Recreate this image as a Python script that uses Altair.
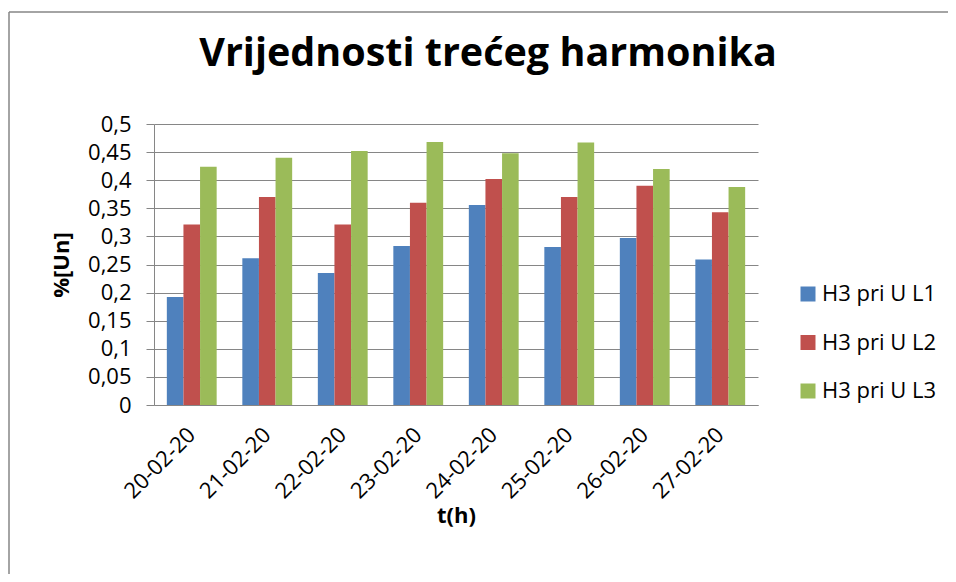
import altair as alt
import pandas as pd

dates = ["20-02-20", "21-02-20", "22-02-20", "23-02-20",
         "24-02-20", "25-02-20", "26-02-20", "27-02-20"]
series_names = ["H3 pri U L1", "H3 pri U L2", "H3 pri U L3"]
l1 = [0.192, 0.261, 0.235, 0.283, 0.356, 0.281, 0.297, 0.259]
l2 = [0.321, 0.370, 0.321, 0.360, 0.402, 0.370, 0.390, 0.343]
l3 = [0.424, 0.440, 0.452, 0.468, 0.448, 0.467, 0.420, 0.388]
colors = ["#4F81BD", "#C0504D", "#9BBB59"]
y_ticks = [round(i * 0.05, 2) for i in range(11)]

rows = []
for name, vals in zip(series_names, [l1, l2, l3]):
    for d, v in zip(dates, vals):
        rows.append({"date": d, "series": name, "value": v})
df = pd.DataFrame(rows)

W, H = 604, 281
FONT = "Open Sans"
GREY = "#868686"

bars = alt.Chart(df).mark_bar().encode(
    x=alt.X("date:N", sort=dates,
            scale=alt.Scale(paddingInner=0.34, paddingOuter=0.17),
            axis=alt.Axis(title="t(h)", labelAngle=-45, labelAlign="right",
                          labelBaseline="middle", labelPadding=26,
                          ticks=False, grid=False, domainColor=GREY,
                          titleY=110, titleBaseline="middle")),
    xOffset=alt.XOffset("series:N", sort=series_names),
    y=alt.Y("value:Q", scale=alt.Scale(domain=[0, 0.5]),
            axis=alt.Axis(title="%[Un]", values=y_ticks,
                          labelExpr="replace(format(datum.value, '.2~f'), '.', ',')",
                          tickSize=8, labelPadding=15, grid=True,
                          gridColor=GREY, tickColor=GREY, domainColor=GREY,
                          titleX=-93, titleY=H / 2, titleAngle=-90,
                          titleBaseline="middle", titleAlign="center")),
    color=alt.Color("series:N", sort=series_names,
                    scale=alt.Scale(domain=series_names, range=colors),
                    legend=alt.Legend(title=None, orient="none",
                                      legendX=643, legendY=159,
                                      symbolType="square", symbolSize=225,
                                      symbolStrokeWidth=0, labelOffset=3,
                                      rowPadding=26.5, labelFontSize=22,
                                      labelFont=FONT, labelColor="black")),
)

border_df = pd.DataFrame({"k": [0]})
left_border = alt.Chart(border_df).mark_rule(color=GREY, strokeWidth=1.5).encode(
    x=alt.value(-145), y=alt.value(-112), y2=alt.value(H + 200))
top_border = alt.Chart(border_df).mark_rule(color=GREY, strokeWidth=1.5).encode(
    x=alt.value(-145), x2=alt.value(W + 200), y=alt.value(-112))

chart = alt.layer(bars, left_border, top_border).properties(
    width=W, height=H,
    autosize=alt.AutoSizeParams(type="none"),
    padding={"left": 146, "top": 116, "right": 190, "bottom": 169},
    title=alt.TitleParams("Vrijednosti trećeg harmonika", font=FONT,
                          fontSize=39.5, fontWeight="bold", color="black",
                          anchor="middle", frame="group", dx=32,
                          baseline="alphabetic", offset=-94),
).configure_view(stroke=None).configure_axis(
    labelFont=FONT, labelFontSize=22, labelColor="black",
    titleFont=FONT, titleFontSize=22, titleFontWeight="bold", titleColor="black",
)

chart.save("out.html", embed_options={"renderer": "svg", "actions": False})
